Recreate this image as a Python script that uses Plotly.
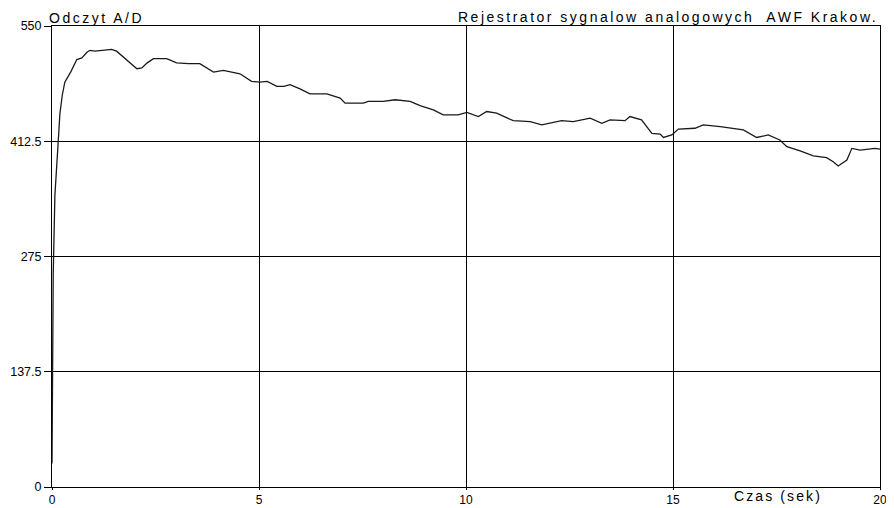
import plotly.graph_objects as go

time_s = [0.00, 0.01, 0.03, 0.07, 0.12, 0.16, 0.19, 0.25, 0.31, 0.45, 0.60, 0.72, 0.85, 0.92, 1.04,
          1.20, 1.44, 1.56, 1.80, 2.05, 2.17, 2.30, 2.45, 2.77, 3.01, 3.30, 3.57, 3.90, 4.14, 4.54,
          4.82, 5.02, 5.20, 5.43, 5.60, 5.75, 5.99, 6.23, 6.64, 6.96, 7.08, 7.52, 7.64, 8.00, 8.29,
          8.65, 8.89, 9.21, 9.45, 9.81, 10.02, 10.30, 10.50, 10.74, 11.14, 11.55, 11.83, 12.03,
          12.31, 12.59, 13.00, 13.28, 13.48, 13.84, 13.96, 14.24, 14.49, 14.69, 14.77, 14.97,
          15.13, 15.53, 15.73, 16.14, 16.38, 16.70, 17.02, 17.30, 17.58, 17.75, 18.07, 18.39,
          18.71, 18.87, 18.99, 19.20, 19.32, 19.52, 19.88, 20.00]
reading = [28, 140, 255, 348, 382, 420, 445, 468, 483, 495, 510, 512, 519, 521, 520,
           521, 522, 520, 510, 499, 500, 506, 511, 511, 506, 505, 505, 495, 497, 493,
           484, 483, 484, 478, 478, 480, 475, 469, 469, 464, 458, 458, 460, 460, 462,
           460, 455, 450, 444, 444, 447, 442, 448, 446, 437, 436, 432, 434,
           437, 436, 440, 434, 438, 437, 442, 438, 422, 421, 417, 420,
           427, 428, 432, 430, 428, 426, 417, 420, 414, 406, 401, 395,
           393, 388, 383, 390, 404, 402, 404, 403]

y_ticks = [0, 137.5, 275, 412.5, 550]
y_tick_text = ["0", "137.5", "275", "412.5", "550"]
x_ticks = [0, 5, 10, 15, 20]
x_tick_text = ["0", "5", "10", "15", "20"]

y_title = "Odczyt A/D"
main_title = "Rejestrator sygnalow analogowych  AWF Krakow."
x_title = "Czas (sek)"

FONT = "Liberation Sans, Arial, sans-serif"


def spaced(s, px):
    return '<span style="letter-spacing:%.1fpx">%s</span>' % (px, s)


fig = go.Figure()
fig.add_trace(go.Scatter(x=time_s, y=reading, mode="lines",
                         line=dict(color="#1a1a1a", width=1.3), showlegend=False,
                         hoverinfo="skip"))

# The page body has an 8px margin, so the figure is 886x500 placed at (8, 8).
fig.update_layout(
    width=886, height=500,
    margin=dict(l=44, r=14, t=18, b=21, autoexpand=False),
    paper_bgcolor="white", plot_bgcolor="white",
    font=dict(family=FONT, size=12, color="black"),
    xaxis=dict(range=[0, 20], tickvals=x_ticks, ticktext=x_tick_text,
               showgrid=True, gridcolor="black", gridwidth=1,
               showline=True, linecolor="black", linewidth=1, mirror=True,
               ticks="outside", ticklen=2, tickcolor="black", zeroline=False,
               automargin=False, tickfont=dict(size=12)),
    yaxis=dict(range=[0, 550], tickvals=y_ticks, ticktext=y_tick_text,
               showgrid=True, gridcolor="black", gridwidth=1,
               showline=True, linecolor="black", linewidth=1, mirror=True,
               ticks="outside", ticklen=7, tickcolor="black", zeroline=False,
               automargin=False, tickfont=dict(size=12.5)),
    annotations=[
        dict(text=spaced(y_title, 2.5), xref="paper", yref="paper", x=-0.006, y=1.0,
             xanchor="left", yanchor="middle", showarrow=False, font=dict(size=14), yshift=8),
        dict(text=spaced(main_title, 2.5), xref="paper", yref="paper", x=1.0, y=1.0,
             xanchor="right", yanchor="middle", showarrow=False, font=dict(size=14), yshift=9),
        dict(text=spaced(x_title, 2.1), xref="paper", yref="paper", x=0.877, y=0.0,
             xanchor="center", yanchor="middle", showarrow=False, font=dict(size=14), yshift=-9),
    ],
)

fig.write_html("out.html")
